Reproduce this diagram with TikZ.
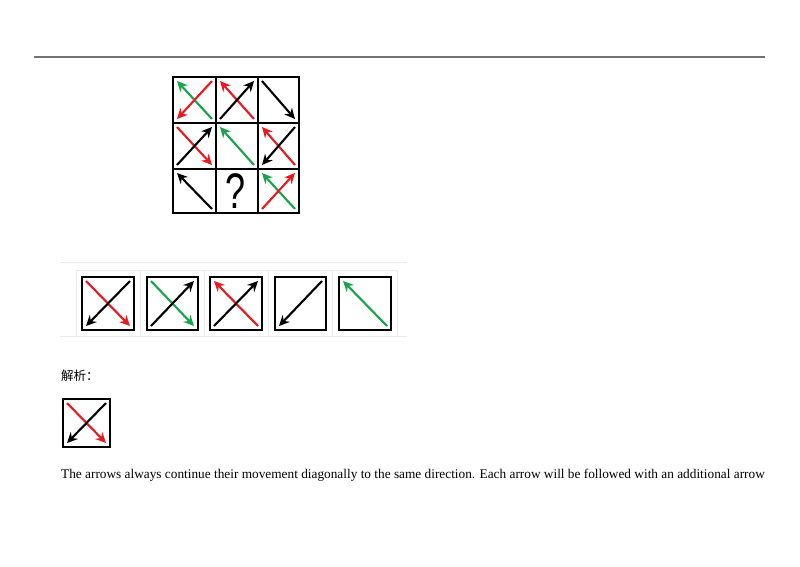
\documentclass[tikz,border=0pt]{standalone}
\usepackage{fontspec}
\setmainfont{Liberation Serif}
\newfontfamily\cjk{Noto Sans CJK SC}
\newfontfamily\qfont{Liberation Sans}
\usetikzlibrary{arrows.meta}
\definecolor{pred}{HTML}{E8191F}
\definecolor{pgreen}{HTML}{17A34A}
\tikzset{
  ar/.style={line width=2.1pt,-{Stealth[length=10.5pt,width=10pt,inset=3.5pt]}},
  gridln/.style={line width=2.8pt},
  boxln/.style={line width=2.6pt},
  faint/.style={draw=black!8,line width=0.6pt},
}
\begin{document}
\begin{tikzpicture}[x=1pt,y=-1pt]
\useasboundingbox (0,0) rectangle (800,566);
% top rule
\draw[black!55,line width=1.4pt] (34,57) -- (765,57);
% ---- grid ----
\draw[gridln] (173,77) rectangle (299,213);
\draw[gridln] (216,77) -- (216,213);
\draw[gridln] (258,77) -- (258,213);
\draw[gridln] (173,123) -- (299,123);
\draw[gridln] (173,169) -- (299,169);
% row 1
\draw[ar,pgreen] (212,119) -- (177,81);
\draw[ar,pred] (212,81) -- (177,119);
\draw[ar,pred] (254,119) -- (220,81);
\draw[ar,black] (220,119) -- (254,81);
\draw[ar,black] (262,81) -- (295,119);
% row 2
\draw[ar,pred] (177,127) -- (212,165);
\draw[ar,black] (177,165) -- (212,127);
\draw[ar,pgreen] (254,165) -- (220,127);
\draw[ar,pred] (295,165) -- (262,127);
\draw[ar,black] (295,127) -- (262,165);
% row 3
\draw[ar,black] (212,209) -- (177,173);
\node[inner sep=0pt] (q) at (235.5,191) {\scalebox{0.72}[1]{\qfont\fontsize{50}{50}\selectfont ?}};
\draw[ar,pgreen] (295,209) -- (262,173);
\draw[ar,pred] (262,209) -- (295,173);
% ---- options panel ----
\draw[faint] (60,262) -- (407,262);
\draw[faint] (60,336) -- (407,336);
\foreach \xa in {76,140,204,268,332,397} {\draw[faint] (\xa,270) -- (\xa,336);}
\draw[faint] (76,270) -- (397,270);
% option 1
\draw[boxln] (82,277) rectangle (134,330);
\draw[ar,pred] (86,281) -- (130,326);
\draw[ar,black] (130,281) -- (86,326);
% option 2
\draw[boxln] (147,277) rectangle (198,330);
\draw[ar,pgreen] (151,281) -- (194,326);
\draw[ar,black] (151,326) -- (194,281);
% option 3
\draw[boxln] (210,277) rectangle (262,330);
\draw[ar,pred] (258,326) -- (214,281);
\draw[ar,black] (214,326) -- (258,281);
% option 4
\draw[boxln] (275,277) rectangle (326,330);
\draw[ar,black] (322,281) -- (279,326);
% option 5
\draw[boxln] (339,277) rectangle (391,330);
\draw[ar,pgreen] (387,326) -- (343,281);
% ---- analysis ----
\node[anchor=west,inner sep=0pt] (jx) at (61,376) {\cjk\fontsize{12.5}{14}\selectfont 解析：};
\draw[boxln] (63,399) rectangle (110,447);
\draw[ar,pred] (67,403) -- (106,443);
\draw[ar,black] (106,403) -- (67,443);
\node[anchor=base west,inner sep=0pt] (txt) at (61,478) {\fontsize{13.3}{15}\selectfont The arrows always continue their movement diagonally to the same direction. Each arrow will be followed with an additional arrow};
\end{tikzpicture}
\end{document}
